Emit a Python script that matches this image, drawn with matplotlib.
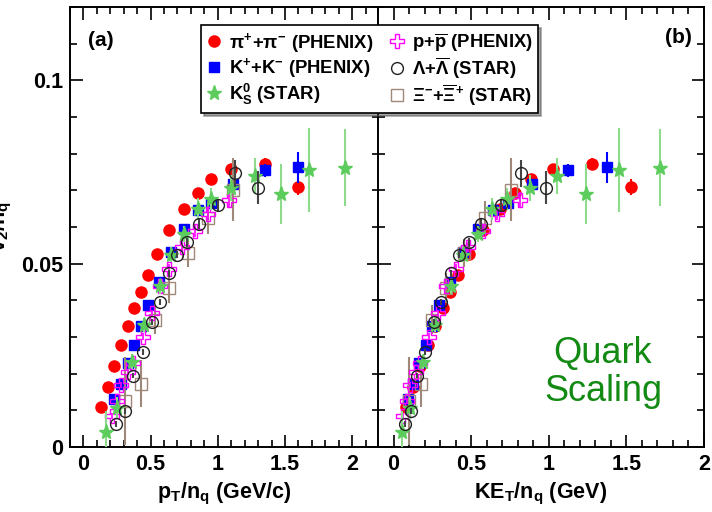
import matplotlib
matplotlib.use("Agg")
import matplotlib.pyplot as plt
from matplotlib.lines import Line2D
from matplotlib.ticker import MultipleLocator

plt.rcParams['font.family'] = ['Liberation Sans', 'DejaVu Sans']
plt.rcParams['font.weight'] = 'bold'
plt.rcParams['axes.labelweight'] = 'bold'
plt.rcParams['mathtext.fontset'] = 'custom'
plt.rcParams['mathtext.rm'] = 'Liberation Sans:bold'
plt.rcParams['mathtext.it'] = 'Liberation Sans:bold'
plt.rcParams['mathtext.bf'] = 'Liberation Sans:bold'
plt.rcParams['mathtext.sf'] = 'Liberation Sans:bold'

# pi+ + pi- (PHENIX)
pi_pt = [0.13, 0.18, 0.23, 0.28, 0.33, 0.38, 0.43, 0.48, 0.55, 0.64, 0.75, 0.85, 0.95, 1.10, 1.35, 1.60]
pi_ke = [0.078, 0.123, 0.171, 0.219, 0.268, 0.317, 0.366, 0.415, 0.485, 0.574, 0.683, 0.783, 0.883, 1.029, 1.277, 1.532]
pi_v2 = [0.0110, 0.0163, 0.0220, 0.0279, 0.0329, 0.0379, 0.0424, 0.0468, 0.0527, 0.0593, 0.0648, 0.0693, 0.0730, 0.0759, 0.0773, 0.0708]
pi_err = [0.0004, 0.0004, 0.0004, 0.0004, 0.0004, 0.0004, 0.0005, 0.0005, 0.0005, 0.0005, 0.0006, 0.0006, 0.0008, 0.0010, 0.0015, 0.0022]

# K+ + K- (PHENIX)
k_pt = [0.23, 0.28, 0.33, 0.38, 0.43, 0.48, 0.56, 0.65, 0.75, 0.85, 0.95, 1.11, 1.35, 1.60]
k_ke = [0.091, 0.126, 0.165, 0.206, 0.249, 0.293, 0.365, 0.448, 0.543, 0.638, 0.735, 0.890, 1.126, 1.372]
k_v2 = [0.0131, 0.0172, 0.0229, 0.0279, 0.0331, 0.0388, 0.0450, 0.0532, 0.0595, 0.0646, 0.0666, 0.0716, 0.0755, 0.0763]
k_err = [0.0005, 0.0005, 0.0005, 0.0005, 0.0005, 0.0006, 0.0006, 0.0007, 0.0008, 0.0009, 0.0010, 0.0015, 0.0018, 0.0042]

# K0s (STAR)
k0_pt = [0.17, 0.25, 0.36, 0.45, 0.57, 0.65, 0.75, 0.85, 0.95, 1.10, 1.28, 1.47, 1.68, 1.95]
k0_ke = [0.053, 0.104, 0.189, 0.265, 0.373, 0.447, 0.541, 0.637, 0.733, 0.879, 1.055, 1.242, 1.450, 1.717]
k0_v2 = [0.0042, 0.0106, 0.0233, 0.0333, 0.0438, 0.0525, 0.0582, 0.0648, 0.0677, 0.0707, 0.0739, 0.0691, 0.0755, 0.0761]
k0_err = [0.0055, 0.0030, 0.0020, 0.0020, 0.0020, 0.0020, 0.0022, 0.0030, 0.0030, 0.0035, 0.0048, 0.0082, 0.0115, 0.0105]

# p + pbar (PHENIX)
p_pt = [0.21, 0.25, 0.28, 0.33, 0.37, 0.44, 0.51, 0.57, 0.64, 0.73, 0.83, 0.93, 1.08]
p_ke = [0.064, 0.088, 0.107, 0.142, 0.172, 0.227, 0.286, 0.337, 0.400, 0.481, 0.574, 0.668, 0.812]
p_v2 = [0.0085, 0.0125, 0.0169, 0.0205, 0.0230, 0.0301, 0.0365, 0.0440, 0.0486, 0.0545, 0.0590, 0.0636, 0.0674]
p_err = [0.0008, 0.0008, 0.0008, 0.0008, 0.0008, 0.0009, 0.0010, 0.0010, 0.0012, 0.0014, 0.0016, 0.0018, 0.0022]

# Lambda + Lambdabar (STAR)
lam_pt = [0.24, 0.31, 0.37, 0.44, 0.51, 0.57, 0.64, 0.70, 0.77, 0.86, 1.00, 1.13, 1.30]
lam_ke = [0.071, 0.112, 0.153, 0.204, 0.259, 0.309, 0.368, 0.421, 0.483, 0.565, 0.695, 0.818, 0.980]
lam_v2 = [0.0063, 0.0099, 0.0195, 0.0259, 0.0342, 0.0395, 0.0474, 0.0525, 0.0558, 0.0609, 0.0660, 0.0746, 0.0707]
lam_err = [0.0008, 0.0008, 0.0008, 0.0008, 0.0008, 0.0009, 0.0010, 0.0010, 0.0012, 0.0014, 0.0016, 0.0037, 0.0045]

# Xi- + Xibar+ (STAR)
xi_pt = [0.31, 0.43, 0.53, 0.64, 0.78, 0.93, 1.11]
xi_ke = [0.098, 0.175, 0.249, 0.336, 0.455, 0.589, 0.754]
xi_v2 = [0.0125, 0.0173, 0.0347, 0.0434, 0.0530, 0.0625, 0.0702]
xi_err = [0.0120, 0.0065, 0.0040, 0.0040, 0.0038, 0.0045, 0.0087]

xtick_vals = [0, 0.5, 1, 1.5, 2]
xtick_text = ['0', '0.5', '1', '1.5', '2']
ytick_vals = [0, 0.05, 0.1]
ytick_text = ['0', '0.05', '0.1']

RED = '#ff0000'
BLUE = '#0000ff'
GREEN = '#5ccc5c'
GREEN_BAR = '#8cdc8c'
MAGENTA = '#ff00ff'
BROWN = '#a08878'


def draw_panel(ax, use_ke):
    def pick(pt, ke):
        return ke if use_ke else pt

    ax.errorbar(pick(pi_pt, pi_ke), pi_v2, yerr=pi_err, fmt='o', ms=8,
                color=RED, elinewidth=1.5, capsize=0, zorder=3)
    ax.errorbar(pick(k_pt, k_ke), k_v2, yerr=k_err, fmt='s', ms=7.5,
                color=BLUE, elinewidth=1.5, capsize=0, zorder=4)
    ax.errorbar(pick(xi_pt, xi_ke), xi_v2, yerr=xi_err, fmt='s', ms=8,
                mfc='none', mec=BROWN, mew=1.0, ecolor=BROWN,
                elinewidth=1.5, capsize=0, zorder=5)
    ax.errorbar(pick(p_pt, p_ke), p_v2, yerr=p_err, fmt='P', ms=9.5,
                mfc='none', mec=MAGENTA, mew=1.0, ecolor=MAGENTA,
                elinewidth=1.2, capsize=0, zorder=6)
    ax.errorbar(pick(k0_pt, k0_ke), k0_v2, yerr=k0_err, fmt='*', ms=11,
                color=GREEN, ecolor=GREEN_BAR, elinewidth=1.5, capsize=0,
                zorder=7)
    ax.errorbar(pick(lam_pt, lam_ke), lam_v2, yerr=lam_err, fmt='o', ms=8.5,
                mfc='none', mec='#222222', mew=1.0, ecolor='#444444',
                elinewidth=1.5, capsize=0, zorder=8)

    ax.set_ylim(0, 0.12)
    ax.set_xticks(xtick_vals)
    ax.set_xticklabels(xtick_text)
    ax.set_yticks(ytick_vals)
    ax.xaxis.set_minor_locator(MultipleLocator(0.1))
    ax.yaxis.set_minor_locator(MultipleLocator(0.01))
    ax.tick_params(which='both', direction='in', top=True, right=True,
                   width=1.2, labelsize=15.5, pad=5)
    ax.tick_params(which='major', length=9)
    ax.tick_params(which='minor', length=5)
    for s in ax.spines.values():
        s.set_linewidth(1.4)


fig = plt.figure(figsize=(7.12, 5.12), dpi=100)
ax_a = fig.add_axes([70 / 712, 65 / 512, 309 / 712, 440 / 512])
ax_b = fig.add_axes([378 / 712, 65 / 512, 326 / 712, 440 / 512])

draw_panel(ax_a, False)
ax_a.set_xlim(-0.1, 2.2)
ax_a.set_yticklabels(ytick_text)
ax_a.set_xlabel('p$_{T}$/n$_{q}$ (GeV/c)', fontsize=15.5, fontweight='bold',
                labelpad=4)
ax_a.set_ylabel('v$_{2}$/n$_{q}$', fontsize=15.5, fontweight='bold')
ax_a.yaxis.set_label_coords(-0.18, 0.5)
ax_a.text(0.10, 0.925, '(a)', transform=ax_a.transAxes, ha='center',
          va='center', fontsize=15)

draw_panel(ax_b, True)
ax_b.set_xlim(-0.1, 2.0)
ax_b.set_yticklabels([])
ax_b.set_xlabel('KE$_{T}$/n$_{q}$ (GeV)', fontsize=15.5, fontweight='bold',
                labelpad=4)
ax_b.text(0.923, 0.93, '(b)', transform=ax_b.transAxes, ha='center',
          va='center', fontsize=15)
ax_b.text(0.69, 0.17, 'Quark\nScaling', transform=ax_b.transAxes,
          ha='center', va='center', fontsize=26, fontweight='normal',
          color='#138a13', linespacing=1.1)

handles = [
    Line2D([], [], ls='none', marker='o', ms=8, color=RED),
    Line2D([], [], ls='none', marker='s', ms=7.5, color=BLUE),
    Line2D([], [], ls='none', marker='*', ms=11, color=GREEN),
    Line2D([], [], ls='none', marker='P', ms=9.5, mfc='none', mec=MAGENTA, mew=1.0),
    Line2D([], [], ls='none', marker='o', ms=8.5, mfc='none', mec='#222222', mew=1.0),
    Line2D([], [], ls='none', marker='s', ms=8, mfc='none', mec=BROWN, mew=1.0),
]
labels = [
    r'$\pi^{+}$+$\pi^{-}$ (PHENIX)',
    r'K$^{+}$+K$^{-}$ (PHENIX)',
    r'K$_{S}^{0}$ (STAR)',
    r'p+$\overline{\mathrm{p}}$ (PHENIX)',
    r'$\Lambda$+$\overline{\Lambda}$ (STAR)',
    r'$\Xi^{-}$+$\overline{\Xi}^{+}$ (STAR)',
]
leg = fig.legend(handles, labels, ncol=2, loc='upper left',
                 bbox_to_anchor=(201 / 712, 1 - 25 / 512), borderaxespad=0,
                 fontsize=13.3, frameon=True, fancybox=False, shadow=True,
                 edgecolor='black', framealpha=1, handlelength=0.8,
                 handletextpad=0.4, columnspacing=0.9, labelspacing=0.08,
                 borderpad=0.3)
leg.get_frame().set_linewidth(1.2)

fig.savefig('out.png', dpi=100)
